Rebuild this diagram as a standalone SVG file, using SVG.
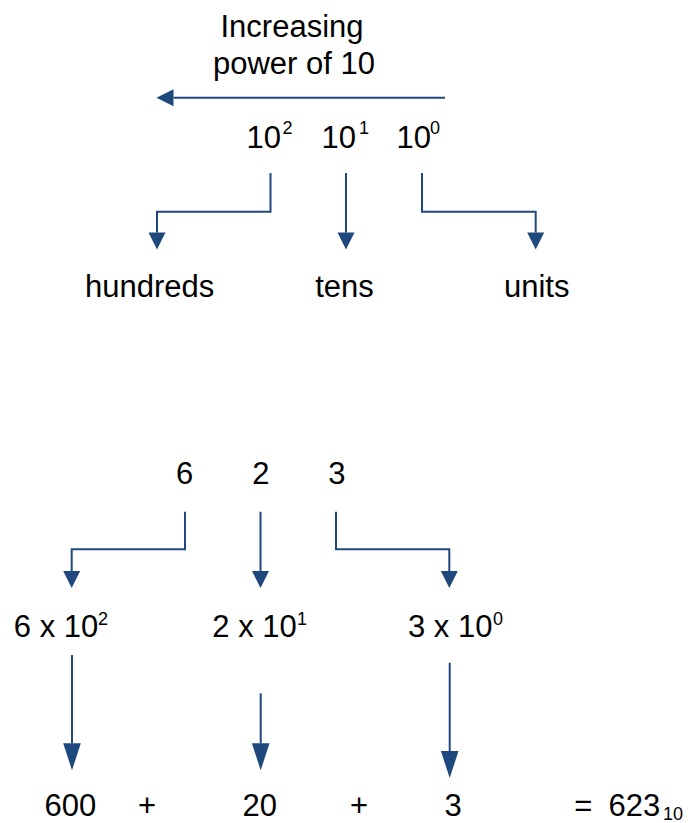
<svg xmlns="http://www.w3.org/2000/svg" width="690" height="823" viewBox="0 0 690 823">
<style>
.t{font-family:"Liberation Sans",Arial,sans-serif;font-size:31px;fill:#000}
.m{text-anchor:middle}
.s{font-size:18px}
.c{fill:none;stroke:#1F497D;stroke-width:2}
</style>
<defs>
<marker id="ah" markerUnits="userSpaceOnUse" markerWidth="17" markerHeight="17" refX="0" refY="8" orient="auto" viewBox="0 0 16 16" overflow="visible">
<path d="M0,0 L16,8 L0,16 Z" fill="#1F497D"/>
</marker>
<marker id="ahb" markerUnits="userSpaceOnUse" markerWidth="27" markerHeight="18" refX="0" refY="8.5" orient="auto" viewBox="0 0 26 17" overflow="visible">
<path d="M0,0 L26,8.5 L0,17 Z" fill="#1F497D"/>
</marker>
</defs>
<rect width="690" height="823" fill="#fff"/>
<g id="connectors">
<path class="c" d="M445,97.7 H173.5" marker-end="url(#ah)"/>
<path class="c" d="M270.5,173 V211.7 H157 V232.5" marker-end="url(#ah)"/>
<path class="c" d="M346,173 V232.5" marker-end="url(#ah)"/>
<path class="c" d="M422,173 V211.7 H535.7 V232.5" marker-end="url(#ah)"/>
<path class="c" d="M185,511.7 V549.3 H71.7 V571" marker-end="url(#ah)"/>
<path class="c" d="M260.5,511.7 V571" marker-end="url(#ah)"/>
<path class="c" d="M336,511.7 V549.3 H449.3 V571" marker-end="url(#ah)"/>
<path class="c" d="M72,655 V743.3" marker-end="url(#ahb)"/>
<path class="c" d="M260.7,693.3 V743.3" marker-end="url(#ahb)"/>
<path class="c" d="M449.7,662.7 V751" marker-end="url(#ahb)"/>
</g>
<g id="title">
<text class="t m" x="292" y="36.5">Increasing</text>
<text class="t m" x="294" y="74">power of 10</text>
</g>
<g id="p2"><text class="t" x="246.6" y="147.7">10<tspan class="s" x="282.5" y="133.5">2</tspan></text></g>
<g id="p1"><text class="t" x="321.6" y="147.7">10<tspan class="s" x="359" y="133.5">1</tspan></text></g>
<g id="p0"><text class="t" x="396.6" y="147.7">10<tspan class="s" x="430" y="133.5">0</tspan></text></g>
<g id="hundreds"><text class="t m" x="149.7" y="296.7">hundreds</text></g>
<g id="tens"><text class="t m" x="344.5" y="296.7">tens</text></g>
<g id="units"><text class="t m" x="536.7" y="296.7">units</text></g>
<g id="d6"><text class="t m" x="184.7" y="484">6</text></g>
<g id="d2"><text class="t m" x="260.8" y="484">2</text></g>
<g id="d3"><text class="t m" x="336.8" y="484">3</text></g>
<g id="e2"><text class="t" x="13.8" y="636.5">6 x 10<tspan class="s" x="98" y="625">2</tspan></text></g>
<g id="e1"><text class="t" x="212.3" y="636.5">2 x 10<tspan class="s" x="297" y="625">1</tspan></text></g>
<g id="e0"><text class="t" x="408" y="636.5">3 x 10<tspan class="s" x="493" y="625">0</tspan></text></g>
<g id="v600"><text class="t m" x="70.3" y="815.5">600</text></g>
<g id="plus1"><text class="t m" x="147" y="815.5">+</text></g>
<g id="v20"><text class="t m" x="259.7" y="815.5">20</text></g>
<g id="plus2"><text class="t m" x="359" y="815.5">+</text></g>
<g id="v3"><text class="t m" x="453" y="815.5">3</text></g>
<g id="result"><text class="t m" x="583.3" y="816">=</text><text class="t" x="608.5" y="816">623<tspan class="s" x="663" y="820">10</tspan></text></g>
</svg>
